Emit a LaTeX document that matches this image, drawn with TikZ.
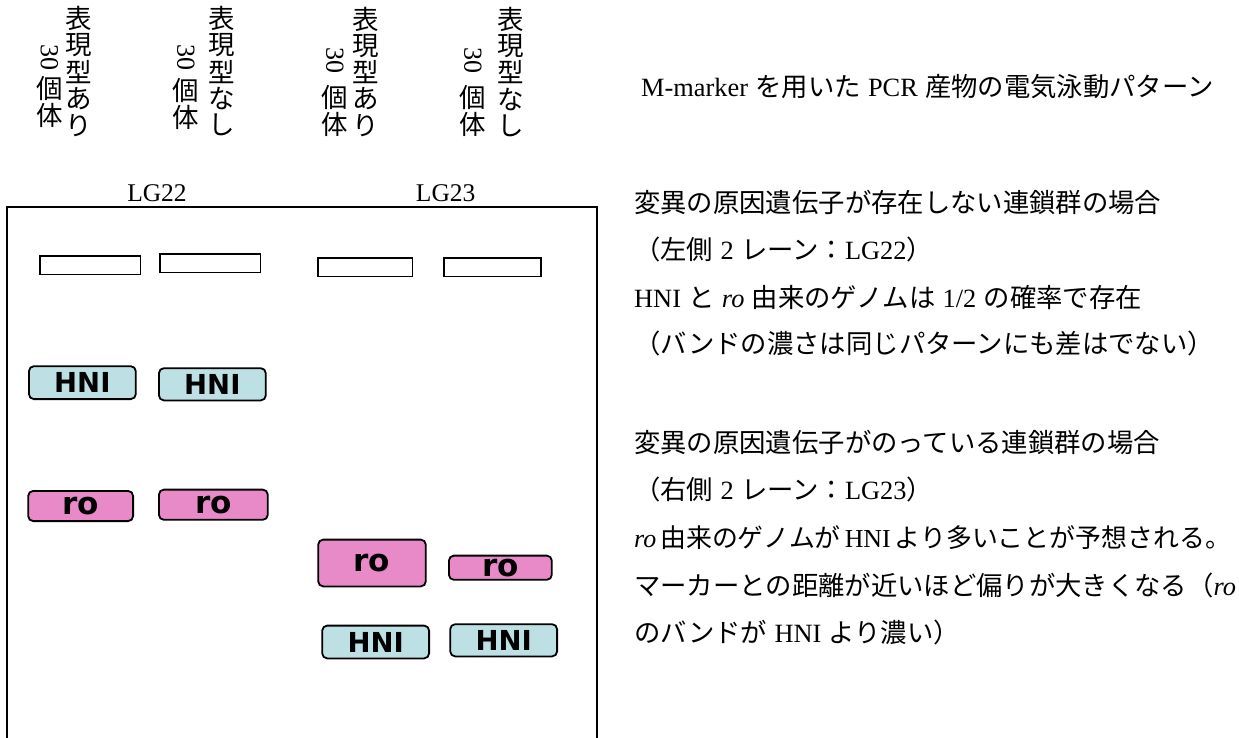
\documentclass[tikz,border=0pt]{standalone}
\usepackage{fontspec}
\setmainfont{Liberation Serif}
\newfontfamily\jp{Noto Sans CJK JP}
\newfontfamily\bandfont{DejaVu Sans}
\definecolor{hnicol}{RGB}{188,224,227}
\definecolor{rocol}{RGB}{232,138,200}
\newcommand{\jpt}[1]{{\jp #1}}
\newcommand{\jgap}{\hspace{7.3pt}}
\newcommand{\jgapn}{\hspace{4pt}}
\begin{document}
\begin{tikzpicture}[x=1pt,y=-1pt,
  txt/.style={anchor=base west, inner sep=0, font=\fontsize{26.35}{30}\selectfont},
  vch/.style={inner sep=0, font=\jp\fontsize{26.5}{30}\selectfont},
  vnum/.style={inner sep=0, rotate=-90, font=\fontsize{26}{30}\selectfont},
  lg/.style={inner sep=0, font=\fontsize{25.5}{30}\selectfont},
  well/.style={draw=black, line width=1.8, fill=white, inner sep=0, minimum height=18.5},
  band/.style={draw=black, line width=1.8, rounded corners=5, inner sep=0},
  hni/.style={band, fill=hnicol, font=\bandfont\bfseries\fontsize{27.5}{30}\selectfont},
  rob/.style={band, fill=rocol, font=\bandfont\bfseries\fontsize{31}{34}\selectfont}]
\useasboundingbox (0,0) rectangle (1239,737);

% vertical lane labels
\foreach \ch [count=\k] in {表,現,型,あ,り} \node[vch] (a1\k) at (78.3,{18.5+26.7*(\k-1)}) {\ch};
\node[vnum] (n1) at (49.5,57) {30};
\node[vch] (b1a) at (49.5,88.5) {個};
\node[vch] (b1b) at (49.5,115.2) {体};

\foreach \ch [count=\k] in {表,現,型,な,し} \node[vch] (a2\k) at (221.5,{18.5+26.7*(\k-1)}) {\ch};
\node[vnum] (n2) at (186,57) {30};
\node[vch] (b2a) at (186,91) {個};
\node[vch] (b2b) at (186,117.7) {体};

\foreach \ch [count=\k] in {表,現,型,あ,り} \node[vch] (a3\k) at (366,{19+26.7*(\k-1)}) {\ch};
\node[vnum] (n3) at (335,60) {30};
\node[vch] (b3a) at (335,98) {個};
\node[vch] (b3b) at (335,124.7) {体};

\foreach \ch [count=\k] in {表,現,型,な,し} \node[vch] (a4\k) at (511,{19+26.7*(\k-1)}) {\ch};
\node[vnum] (n4) at (473,60) {30};
\node[vch] (b4a) at (473,97.5) {個};
\node[vch] (b4b) at (473,124.2) {体};

% group labels
\node[lg] (lg22) at (157,193) {LG22};
\node[lg] (lg23) at (445.7,193) {LG23};

% gel frame
\coordinate (gBL) at (7.3,739);
\coordinate (gTL) at (7.3,206.7);
\coordinate (gTR) at (596.7,206.7);
\coordinate (gBR) at (596.7,739);
\draw[line width=1.8] (gBL) -- (gTL) -- (gTR) -- (gBR);

% wells
\node[well, minimum width=100.8] (w1) at (90,265.3) {};
\node[well, minimum width=100.8] (w2) at (210,263.3) {};
\node[well, minimum width=94.8]  (w3) at (365,267.3) {};
\node[well, minimum width=97.5]  (w4) at (492.35,267.3) {};

% bands
\node[hni, minimum width=106.9, minimum height=32.9] (h1) at (82.35,382.65) {HNI};
\node[hni, minimum width=106.9, minimum height=32.2] (h2) at (212.35,384.3) {HNI};
\node[rob, minimum width=104.9, minimum height=30.2] (r1) at (80.65,506) {ro};
\node[rob, minimum width=108.9, minimum height=30.2] (r2) at (213.35,504.7) {ro};
\node[rob, minimum width=107.6, minimum height=46.8] (r3) at (372,563) {ro};
\node[rob, minimum width=102.9, minimum height=24.2] (r4) at (500.35,567.7) {ro};
\node[hni, minimum width=106.9, minimum height=32.8] (h3) at (375.65,642) {HNI};
\node[hni, minimum width=106.9, minimum height=32.2] (h4) at (503.65,640.3) {HNI};

% explanatory text
\node[txt] (t0) at (641,96) {M-marker\jgap\jpt{を用いた}\jgap PCR\jgap\jpt{産物の電気泳動パターン}};
\node[txt] (t1) at (634,212) {\jpt{変異の原因遺伝子が存在しない連鎖群の場合}};
\node[txt] (t2) at (634,259.5) {\jpt{（左側}\jgap 2\jgap\jpt{レーン：}LG22\jpt{）}};
\node[txt] (t3) at (634,307) {HNI\jgap\jpt{と}\jgap\textit{ro}\jgap\jpt{由来のゲノムは}\jgap 1/2\jgap\jpt{の確率で存在}};
\node[txt] (t4) at (634,353.5) {\jpt{（バンドの濃さは同じパターンにも差はでない）}};
\node[txt] (t5) at (634,452) {\jpt{変異の原因遺伝子がのっている連鎖群の場合}};
\node[txt] (t6) at (634,499.5) {\jpt{（右側}\jgap 2\jgap\jpt{レーン：}LG23\jpt{）}};
\node[txt, font=\fontsize{25.9}{30}\selectfont] (t7) at (634,547) {\textit{ro}\jgapn\jpt{由来のゲノムが}\jgapn HNI\jgapn\jpt{より多いことが予想される。}};
\node[txt] (t8) at (634,595) {\jpt{マーカーとの距離が近いほど偏りが大きくなる（}\textit{ro}};
\node[txt] (t9) at (634,642) {\jpt{のバンドが}\jgap HNI\jgap\jpt{より濃い）}};
\end{tikzpicture}
\end{document}
